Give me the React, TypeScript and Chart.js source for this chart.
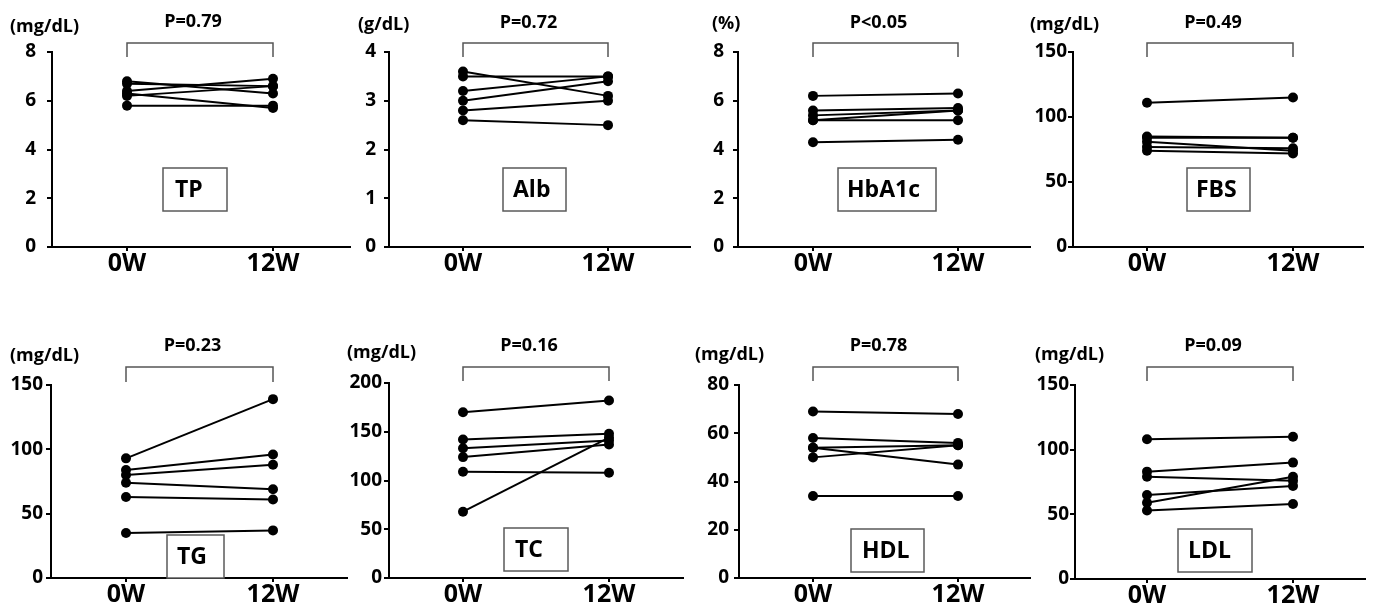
import React, { useEffect, useRef } from "react";
import { Chart, registerables } from "chart.js";
Chart.register(...registerables);

Chart.defaults.font.family = "'Open Sans', 'DejaVu Sans', sans-serif";

// ---- data ----
const CATEGORIES = ["0W", "12W"];

const TP_0W = [6.8, 6.7, 6.4, 6.3, 6.2, 5.8];
const TP_12W = [6.3, 6.6, 6.9, 5.7, 6.6, 5.8];

const ALB_0W = [3.6, 3.5, 3.2, 3.0, 2.8, 2.6];
const ALB_12W = [3.1, 3.5, 3.5, 3.4, 3.0, 2.5];

const HBA1C_0W = [6.2, 5.6, 5.4, 5.2, 5.2, 4.3];
const HBA1C_12W = [6.3, 5.7, 5.6, 5.6, 5.2, 4.4];

const FBS_0W = [111, 85, 84, 81, 77, 74];
const FBS_12W = [115, 84, 84, 74, 76, 72];

const TG_0W = [93, 84, 80, 74, 63, 35];
const TG_12W = [139, 96, 88, 69, 61, 37];

const TC_0W = [170, 142, 133, 124, 109, 68];
const TC_12W = [182, 148, 141, 137, 108, 144];

const HDL_0W = [69, 58, 54, 54, 50, 34];
const HDL_12W = [68, 56, 55, 47, 55, 34];

const LDL_0W = [108, 83, 79, 65, 59, 53];
const LDL_12W = [110, 90, 76, 72, 79, 58];

const NAMES = ["TP", "Alb", "HbA1c", "FBS", "TG", "TC", "HDL", "LDL"];
const UNITS = ["(mg/dL)", "(g/dL)", "(%)", "(mg/dL)", "(mg/dL)", "(mg/dL)", "(mg/dL)", "(mg/dL)"];
const P_LABELS = ["P=0.79", "P=0.72", "P<0.05", "P=0.49", "P=0.23", "P=0.16", "P=0.78", "P=0.09"];
const Y_MAX = [8, 4, 8, 150, 150, 200, 80, 150];
const Y_STEP = [2, 1, 2, 50, 50, 50, 20, 50];
const SERIES_0W = [TP_0W, ALB_0W, HBA1C_0W, FBS_0W, TG_0W, TC_0W, HDL_0W, LDL_0W];
const SERIES_12W = [TP_12W, ALB_12W, HBA1C_12W, FBS_12W, TG_12W, TC_12W, HDL_12W, LDL_12W];

// ---- layout (page pixels) ----
const W = 1373;
const H = 612;
const Y_W = 50;

type Layout = {
  axisX: number; axisEnd: number; top: number; bottom: number;
  c0: number; c1: number; unitX: number; unitY: number;
  box: [number, number, number, number]; textX: number; tickPad: number;
  brTop: number; brBot: number; pY: number;
};

const LAYOUT: Layout[] = [
  { axisX: 52, axisEnd: 350, top: 52, bottom: 247, c0: 127, c1: 273, unitX: 10, unitY: 27, box: [163, 168, 227, 211], textX: 175, tickPad: 11, brTop: 43, brBot: 57, pY: 22 },
  { axisX: 389, axisEnd: 690, top: 52, bottom: 247, c0: 463, c1: 608, unitX: 358, unitY: 25, box: [503, 168, 566, 211], textX: 513, tickPad: 8, brTop: 43, brBot: 57, pY: 23 },
  { axisX: 738, axisEnd: 1030, top: 52, bottom: 247, c0: 813, c1: 958, unitX: 712, unitY: 24, box: [838, 168, 936, 211], textX: 847, tickPad: 9, brTop: 43, brBot: 57, pY: 23 },
  { axisX: 1073, axisEnd: 1363, top: 52, bottom: 247, c0: 1147, c1: 1293, unitX: 1030, unitY: 25, box: [1187, 168, 1250, 211], textX: 1196, tickPad: 1, brTop: 43, brBot: 57, pY: 23 },
  { axisX: 51, axisEnd: 347, top: 385, bottom: 578, c0: 126, c1: 273, unitX: 10, unitY: 356, box: [167, 535, 224, 578], textX: 177, tickPad: 3, brTop: 367, brBot: 382, pY: 346 },
  { axisX: 389, axisEnd: 683, top: 383, bottom: 578, c0: 463, c1: 609, unitX: 347, unitY: 353, box: [504, 528, 568, 571], textX: 515, tickPad: 2, brTop: 367, brBot: 381, pY: 346 },
  { axisX: 739, axisEnd: 1030, top: 385, bottom: 578, c0: 813, c1: 958, unitX: 695, unitY: 355, box: [851, 529, 924, 572], textX: 862, tickPad: 5, brTop: 367, brBot: 381, pY: 346 },
  { axisX: 1075, axisEnd: 1365, top: 385, bottom: 579, c0: 1147, c1: 1293, unitX: 1035, unitY: 355, box: [1178, 529, 1252, 572], textX: 1188, tickPad: 1, brTop: 367, brBot: 381, pY: 346 },
];

function makeDecor(i: number) {
  const L = LAYOUT[i];
  return {
    id: "decor" + i,
    beforeDatasetsDraw(chart: any) {
      const ctx = chart.ctx;
      const [bx0, by0, bx1, by1] = L.box;
      ctx.save();
      ctx.fillStyle = "#ffffff";
      ctx.fillRect(bx0, by0, bx1 - bx0, by1 - by0);
      ctx.strokeStyle = "#5a5a5a";
      ctx.lineWidth = 1.5;
      ctx.strokeRect(bx0, by0, bx1 - bx0, by1 - by0);
      ctx.fillStyle = "#000";
      ctx.font = "bold 23px 'Open Sans', sans-serif";
      ctx.textAlign = "left";
      ctx.textBaseline = "middle";
      ctx.fillText(NAMES[i], L.textX, (by0 + by1) / 2 + 1);
      ctx.restore();
    },
    afterDraw(chart: any) {
      const ctx = chart.ctx;
      const xs = chart.scales.x;
      const x0 = xs.getPixelForValue(0);
      const x1 = xs.getPixelForValue(1);
      ctx.save();
      ctx.fillStyle = "#000";
      ctx.font = "bold 18px 'Open Sans', sans-serif";
      ctx.textAlign = "left";
      ctx.textBaseline = "middle";
      ctx.fillText(UNITS[i], L.unitX, L.unitY);
      ctx.font = "bold 18px 'Open Sans', sans-serif";
      ctx.textAlign = "center";
      ctx.fillText(P_LABELS[i], (x0 + x1) / 2 - 7, L.pY);
      ctx.strokeStyle = "#555";
      ctx.lineWidth = 1.5;
      ctx.beginPath();
      ctx.moveTo(x0, L.brBot);
      ctx.lineTo(x0, L.brTop);
      ctx.lineTo(x1, L.brTop);
      ctx.lineTo(x1, L.brBot);
      ctx.stroke();
      ctx.restore();
    },
  };
}

function Panel({ i }: { i: number }) {
  const ref = useRef<HTMLCanvasElement | null>(null);
  useEffect(() => {
    const L = LAYOUT[i];
    const xH = H - L.bottom > 60 ? 50 : H - L.bottom;
    const d = L.c1 - L.c0;
    const xMin = -(L.c0 - L.axisX) / d;
    const xMax = 1 + (L.axisEnd - L.c1) / d;
    const v0 = SERIES_0W[i];
    const v1 = SERIES_12W[i];
    const datasets = v0.map((a, k) => ({
      data: [{ x: 0, y: a }, { x: 1, y: v1[k] }],
      borderColor: "#000",
      backgroundColor: "#000",
      borderWidth: 2,
      pointRadius: 5,
      pointBackgroundColor: "#000",
      pointBorderColor: "#000",
      pointBorderWidth: 0,
      fill: false,
      tension: 0,
    }));
    const chart = new Chart(ref.current as HTMLCanvasElement, {
      type: "line",
      data: { datasets } as any,
      options: {
        responsive: false,
        animation: false,
        devicePixelRatio: 1,
        layout: {
          padding: { left: L.axisX - Y_W, right: W - L.axisEnd, top: L.top, bottom: H - L.bottom - xH },
        },
        plugins: { legend: { display: false }, tooltip: { enabled: false } },
        scales: {
          x: {
            type: "linear",
            min: xMin,
            max: xMax,
            afterBuildTicks: (s: any) => { s.ticks = [{ value: 0 }, { value: 1 }]; },
            afterFit: (s: any) => { s.height = xH; },
            grid: { display: true, drawOnChartArea: false, drawTicks: true, tickLength: 4, color: "#000", lineWidth: 2 },
            border: { display: true, color: "#000", width: 2 },
            ticks: {
              callback: (v: any) => CATEGORIES[v] ?? "",
              font: { size: 25, weight: "bold" },
              color: "#000",
              padding: -2,
              maxRotation: 0,
              autoSkip: false,
            },
          },
          y: {
            min: 0,
            max: Y_MAX[i],
            afterFit: (s: any) => { s.width = Y_W; },
            ticks: { stepSize: Y_STEP[i], font: { size: 19, weight: "bold" }, color: "#000", padding: L.tickPad },
            grid: { drawOnChartArea: false, drawTicks: true, tickLength: 5, color: "#000", lineWidth: 2 },
            border: { display: true, color: "#000", width: 2 },
          },
        },
      } as any,
      plugins: [makeDecor(i)],
    });
    return () => chart.destroy();
  }, [i]);
  return (
    <canvas
      ref={ref}
      width={W}
      height={H}
      style={{ position: "absolute", left: 0, top: 0, width: W, height: H, display: "block" }}
    />
  );
}

export default function App() {
  return (
    <div style={{ position: "absolute", left: 0, top: 0, width: W, height: H, background: "#fff", overflow: "hidden" }}>
      {NAMES.map((_, i) => (
        <Panel key={i} i={i} />
      ))}
    </div>
  );
}
